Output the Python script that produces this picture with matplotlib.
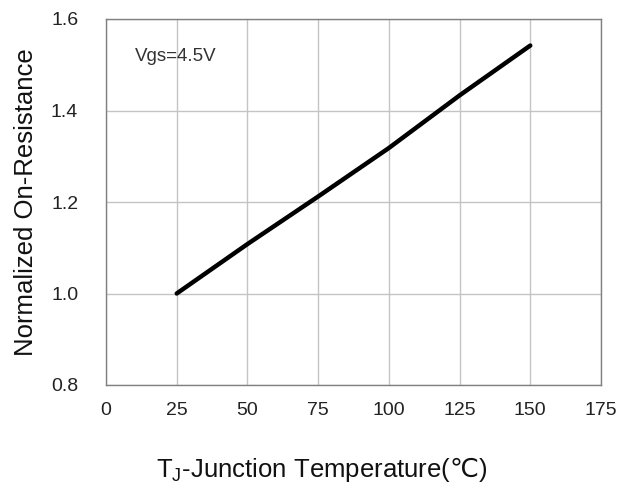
import numpy as np
import matplotlib
matplotlib.use("Agg")
import matplotlib.pyplot as plt

plt.rcParams['font.family'] = ['Liberation Sans', 'DejaVu Sans']
plt.rcParams['mathtext.fontset'] = 'custom'
plt.rcParams['mathtext.rm'] = 'Liberation Sans'
plt.rcParams['mathtext.it'] = 'Liberation Sans'
plt.rcParams['mathtext.sf'] = 'DejaVu Sans'

temp = [25, 50, 75, 100, 125, 150]
r_norm = [1.0, 1.108, 1.212, 1.318, 1.433, 1.542]

x_ticks = [0, 25, 50, 75, 100, 125, 150, 175]
y_ticks = [0.8, 1.0, 1.2, 1.4, 1.6]

fig = plt.figure(figsize=(6.27, 4.91), dpi=100)
ax = fig.add_axes([106/627, 106/491, 495/627, 366/491])

ax.plot(temp, r_norm, color='black', lw=3.2, solid_capstyle='round')

ax.set_xlim(0, 175)
ax.set_ylim(0.8, 1.6)
ax.set_xticks(x_ticks)
ax.set_yticks(y_ticks)
ax.set_yticklabels(['%.1f' % v for v in y_ticks])
ax.grid(True, color='#c4c4c4', lw=1.0)
ax.tick_params(length=0, labelsize=14, colors='#222222', pad=12)
ax.tick_params(axis='y', pad=20)
for s in ax.spines.values():
    s.set_color('#808080')
    s.set_linewidth(1.0)

ax.text(10.3, 1.517, 'Vgs=4.5V', fontsize=13.5, color='#333333', va='center')

ax.set_xlabel('T$_\\mathrm{J}$-Junction Temperature($\\mathsf{℃}$)', fontsize=18.5, color='#111111')
ax.xaxis.set_label_coords(0.436, -0.19)
ax.set_ylabel('Normalized On-Resistance', fontsize=18.5, color='#111111', labelpad=9)

fig.savefig('out.png', dpi=100)
